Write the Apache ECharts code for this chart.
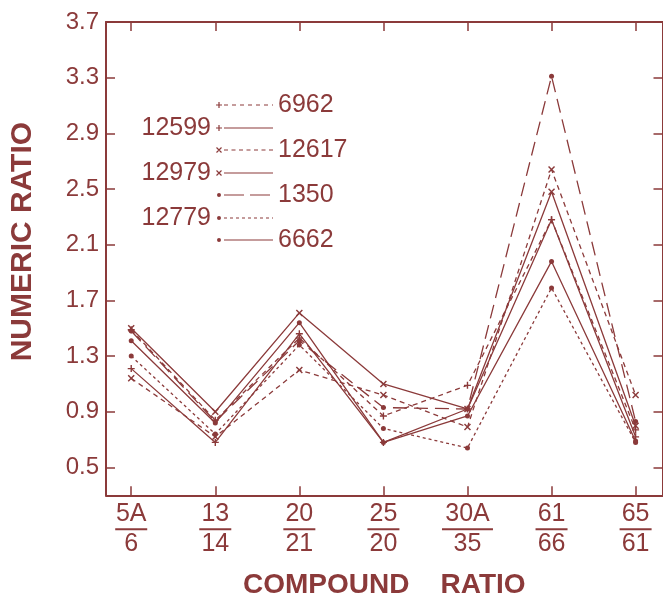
<!DOCTYPE html>
<html>
<head>
<meta charset="utf-8">
<script src="https://cdn.jsdelivr.net/npm/echarts@6/dist/echarts.min.js"></script>
<style>
  html, body { margin: 0; padding: 0; background: #fff; }
  #chart { width: 663px; height: 598px; }
</style>
</head>
<body>
<div id="chart"></div>
<script>
// compound ratio labels (numerator over denominator)
var numerators = ["5A", "13", "20", "25", "30A", "61", "65"];
var denominators = ["6", "14", "21", "20", "35", "66", "61"];
var yTicks = [0.5, 0.9, 1.3, 1.7, 2.1, 2.5, 2.9, 3.3, 3.7];

// numeric ratio per sample
var s6962 = [1.49, 0.84, 1.43, 0.87, 1.09, 2.28, 0.77];
var s12599 = [1.21, 0.68, 1.46, 0.68, 0.92, 2.28, 0.72];
var s12617 = [1.14, 0.72, 1.20, 1.02, 0.79, 2.64, 1.02];
var s12979 = [1.50, 0.90, 1.61, 1.10, 0.92, 2.48, 0.80];
var s1350 = [1.48, 0.83, 1.41, 0.93, 0.92, 3.31, 0.83];
var s12779 = [1.30, 0.74, 1.38, 0.78, 0.64, 1.79, 0.68];
var s6662 = [1.41, 0.82, 1.54, 0.68, 0.87, 1.98, 0.69];

var C = "#8b3a3a";
var FONT = "'Liberation Sans', Arial, sans-serif";

var PLUS = "M0,3.4H6V4.6H0Z M2.4,1H3.6V7H2.4Z";
var CROSS = "M0.92,1.08L5.92,6.08L5.08,6.92L0.08,1.92Z M5.08,1.08L5.92,1.92L0.92,6.92L0.08,6.08Z";
var DOT = "M1,4A2,2 0 1 1 5,4A2,2 0 1 1 1,4Z";

function markSymbol(kind) {
  if (kind == "plus") return "path://" + PLUS;
  if (kind == "cross") return "path://" + CROSS;
  return "circle";
}

// legend icon: marker at left end, then a line sample made of small rects
function legendIcon(kind, dash) {
  var p = "M0,0 M57,8 ";
  p += kind == "plus" ? PLUS : kind == "cross" ? CROSS : DOT;
  if (!dash) {
    p += " M8,3.4H57V4.6H8Z";
  } else {
    var x = 8;
    while (x < 57) {
      var e = Math.min(x + dash[0], 57);
      p += " M" + x + ",3.4H" + e + "V4.6H" + x + "Z";
      x = e + dash[1];
    }
  }
  return "path://" + p;
}

var seriesDefs = [
  { name: "6962", data: s6962, mark: "plus", dash: [5, 4] },
  { name: "12599", data: s12599, mark: "plus", dash: null },
  { name: "12617", data: s12617, mark: "cross", dash: [5, 4] },
  { name: "12979", data: s12979, mark: "cross", dash: null },
  { name: "1350", data: s1350, mark: "dot", dash: [14, 7] },
  { name: "12779", data: s12779, mark: "dot", dash: [3, 3] },
  { name: "6662", data: s6662, mark: "dot", dash: null }
];
var legendIconDash = { "6962": [4, 4], "12617": [4, 3.5], "1350": [20, 6], "12779": [3, 3] };

var series = seriesDefs.map(function (d) {
  return {
    name: d.name,
    type: "line",
    data: d.data.map(function (v, i) { return [i, v]; }),
    symbol: markSymbol(d.mark),
    symbolSize: d.mark == "dot" ? 5 : 7,
    itemStyle: { color: C },
    lineStyle: { color: C, width: 1.3, type: d.dash ? d.dash : "solid" },
    emphasis: { disabled: true },
    silent: true
  };
});

function legendData(names) {
  return names.map(function (n) {
    var d = seriesDefs.filter(function (s) { return s.name == n; })[0];
    return { name: n, icon: legendIcon(d.mark, d.dash ? legendIconDash[n] : null) };
  });
}

var legendText = { color: C, fontSize: 25, lineHeight: 25, fontFamily: FONT };

var catIdx = [0, 1, 2, 3, 4, 5, 6];

var dom = document.getElementById("chart");
var myChart = echarts.init(dom, null, { renderer: "canvas" });

var option = {
  animation: false,
  backgroundColor: "#fff",
  grid: { left: 106, right: 0.5, top: 22, bottom: 102.7, containLabel: false, outerBoundsMode: "none" },
  legend: [
    {
      data: legendData(["6962", "12617", "1350", "6662"]),
      orient: "vertical",
      left: 216,
      top: 92.5,
      align: "left",
      itemWidth: 57,
      itemHeight: 8,
      itemGap: 20,
      padding: 0,
      selectedMode: false,
      textStyle: legendText
    },
    {
      data: legendData(["12599", "12979", "12779"]),
      orient: "vertical",
      right: 390,
      top: 115.5,
      align: "right",
      itemWidth: 57,
      itemHeight: 8,
      itemGap: 20,
      padding: 0,
      selectedMode: false,
      textStyle: legendText
    }
  ],
  xAxis: [
    {
      type: "value",
      min: -0.3,
      max: 6.32,
      position: "bottom",
      axisLine: { onZero: false, lineStyle: { color: C, width: 2 } },
      axisTick: { inside: true, length: 9, customValues: catIdx, lineStyle: { color: C, width: 1.5 } },
      splitLine: { show: false },
      axisLabel: {
        customValues: catIdx,
        margin: 6,
        color: C,
        fontFamily: FONT,
        formatter: function (v) {
          var i = Math.round(v);
          var n = numerators[i];
          return "{n|" + n + "}\n{" + (n.length > 2 ? "bw" : "b") + "| }\n{d|" + denominators[i] + "}";
        },
        rich: {
          n: { fontSize: 25, lineHeight: 26, color: C, fontFamily: FONT },
          d: { fontSize: 25, lineHeight: 26, color: C, fontFamily: FONT },
          b: { width: 32, height: 2, lineHeight: 4, fontSize: 2, backgroundColor: C },
          bw: { width: 51, height: 2, lineHeight: 4, fontSize: 2, backgroundColor: C }
        }
      },
      name: "COMPOUND    RATIO",
      nameLocation: "middle",
      nameGap: 76,
      nameTextStyle: { color: C, fontSize: 28, fontWeight: "bold", fontFamily: FONT }
    },
    {
      type: "value",
      min: -0.3,
      max: 6.32,
      position: "top",
      axisLine: { onZero: false, lineStyle: { color: C, width: 2 } },
      axisTick: { inside: true, length: 9, customValues: catIdx, lineStyle: { color: C, width: 1.5 } },
      axisLabel: { show: false },
      splitLine: { show: false }
    }
  ],
  yAxis: [
    {
      type: "value",
      min: 0.3,
      max: 3.7,
      position: "left",
      axisLine: { show: true, onZero: false, lineStyle: { color: C, width: 2 } },
      axisTick: { show: true, inside: true, length: 9, customValues: yTicks, lineStyle: { color: C, width: 1.5 } },
      splitLine: { show: false },
      axisLabel: {
        customValues: yTicks,
        margin: 7,
        color: C,
        fontSize: 24,
        fontFamily: FONT,
        formatter: function (v) { return v.toFixed(1); }
      },
      name: "NUMERIC RATIO",
      nameLocation: "middle",
      nameGap: 68,
      nameTextStyle: { color: C, fontSize: 30, fontWeight: "bold", fontFamily: FONT, padding: [0, 0, 0, 34] }
    },
    {
      type: "value",
      min: 0.3,
      max: 3.7,
      position: "right",
      axisLine: { show: true, onZero: false, lineStyle: { color: C, width: 2 } },
      axisTick: { show: true, inside: true, length: 9, customValues: yTicks, lineStyle: { color: C, width: 1.5 } },
      axisLabel: { show: false },
      splitLine: { show: false }
    }
  ],
  series: series
};

if (option && typeof option === "object") {
  myChart.setOption(option);
}
window.addEventListener("resize", myChart.resize);
</script>
</body>
</html>
